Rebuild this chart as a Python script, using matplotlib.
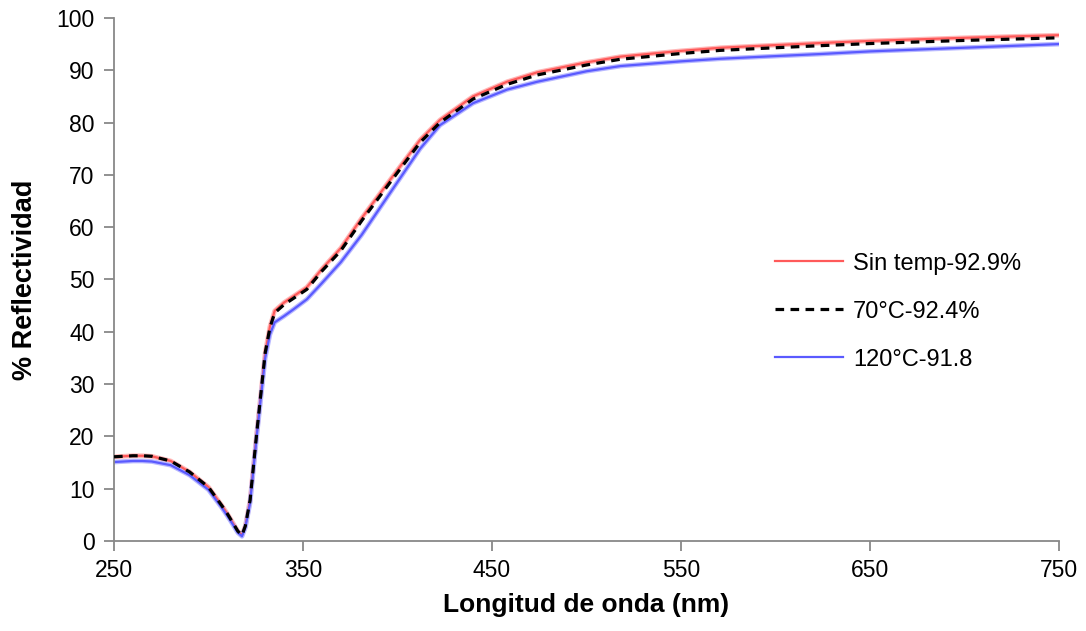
import matplotlib
matplotlib.use('Agg')
import matplotlib.pyplot as plt

plt.rcParams['font.family'] = ['Liberation Sans', 'DejaVu Sans']

# wavelength (nm) and reflectivity (%)
wl = [250, 260, 265, 270, 280, 290, 300, 307, 310, 313, 315.5, 317.7, 319.5, 322, 325.5, 330, 332.5, 335, 340,
      345, 352, 360, 370, 381, 396, 412, 422.5, 440, 458, 474, 500, 518, 550, 571, 600, 624, 650, 700, 750]
sin_temp = [16.1, 16.3, 16.3, 16.2, 15.3, 13.2, 10.3, 6.8, 5.2, 3.4, 1.9, 1.1, 2.9, 7.8, 20.6, 36.0, 41.0, 44.0, 45.6,
            46.8, 48.5, 52.0, 56.0, 61.7, 69.0, 76.7, 80.5, 85.0, 87.8, 89.6, 91.5, 92.6, 93.7, 94.3, 94.8, 95.2, 95.6, 96.2, 96.7]
t70 = [16.1, 16.3, 16.3, 16.2, 15.3, 13.2, 10.3, 6.8, 5.2, 3.4, 1.9, 1.1, 2.9, 7.8, 20.6, 36.0, 40.8, 43.6, 45.2,
       46.4, 48.1, 51.6, 55.5, 61.2, 68.5, 76.2, 80.0, 84.5, 87.3, 89.1, 91.0, 92.1, 93.2, 93.8, 94.3, 94.7, 95.1, 95.7, 96.2]
t120 = [15.1, 15.3, 15.3, 15.2, 14.5, 12.6, 9.8, 6.4, 4.8, 3.1, 1.6, 0.9, 2.6, 7.3, 20.0, 35.0, 39.5, 41.8, 43.0,
        44.3, 46.2, 49.3, 53.3, 58.5, 66.5, 75.0, 79.5, 83.7, 86.3, 87.8, 89.8, 90.8, 91.7, 92.2, 92.7, 93.1, 93.6, 94.3, 95.0]

labels = ['Sin temp-92.9%', '70°C-92.4%', '120°C-91.8']

fig = plt.figure(figsize=(10.86, 6.31), dpi=100)
ax = fig.add_axes([0.105, 0.1426, 0.870, 0.829])

# pale halo under each line, like the original export
ax.plot(wl, sin_temp, color='#ffb8b8', lw=3.4, zorder=1)
ax.plot(wl, t120, color='#b8b8ff', lw=3.4, zorder=1)
ax.plot(wl, sin_temp, color='#ff5a5a', lw=1.6, label=labels[0], zorder=2)
ax.plot(wl, t70, color='black', lw=2.3, ls=(0, (2.7, 2)), label=labels[1], zorder=3)
ax.plot(wl, t120, color='#5a5aff', lw=1.6, label=labels[2], zorder=2)

ax.set_xlim(250, 750)
ax.set_ylim(0, 100)
ax.set_xticks(range(250, 751, 100))
ax.set_yticks(range(0, 101, 10))
for s in ['top', 'right']:
    ax.spines[s].set_visible(False)
for s in ['left', 'bottom']:
    ax.spines[s].set_color('#888888')
    ax.spines[s].set_linewidth(1.3)
ax.tick_params(colors='#888888', labelcolor='black', labelsize=16.5, length=7, width=1.3)
ax.tick_params(axis='x', pad=6)
ax.tick_params(axis='y', pad=7)

ax.set_xlabel('Longitud de onda (nm)', fontsize=19, fontweight='bold', labelpad=8)
ax.set_ylabel('% Reflectividad', fontsize=19.5, fontweight='bold', labelpad=13)

ax.legend(loc='upper left', bbox_to_anchor=(0.677, 0.592), frameon=False, fontsize=17,
          handlelength=2.9, handletextpad=0.4, labelspacing=1.1)

fig.savefig('out.png', dpi=100)
